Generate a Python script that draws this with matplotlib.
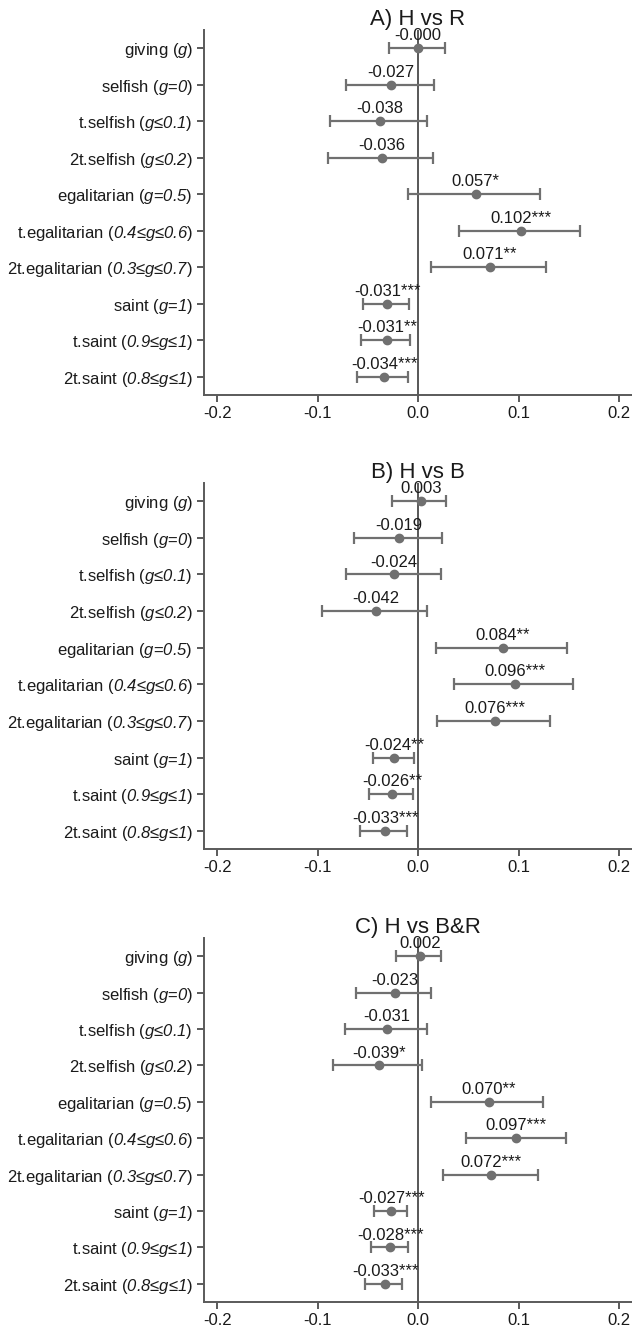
import matplotlib
matplotlib.use("Agg")
import matplotlib.pyplot as plt

plt.rcParams["font.family"] = ["Liberation Sans", "DejaVu Sans"]
plt.rcParams["mathtext.fontset"] = "custom"
plt.rcParams["mathtext.rm"] = "Liberation Sans"
# \mathsf is used for the italic parts so that digits are slanted as well
plt.rcParams["mathtext.sf"] = "Liberation Sans:italic"
plt.rcParams["mathtext.it"] = "Liberation Sans:italic"

# Row labels (top to bottom)
categories = [
    r"giving ($\mathsf{g}$)",
    r"selfish ($\mathsf{g}$=$\mathsf{0}$)",
    r"t.selfish ($\mathsf{g}$≤$\mathsf{0.1}$)",
    r"2t.selfish ($\mathsf{g}$≤$\mathsf{0.2}$)",
    r"egalitarian ($\mathsf{g}$=$\mathsf{0.5}$)",
    r"t.egalitarian ($\mathsf{0.4}$≤$\mathsf{g}$≤$\mathsf{0.6}$)",
    r"2t.egalitarian ($\mathsf{0.3}$≤$\mathsf{g}$≤$\mathsf{0.7}$)",
    r"saint ($\mathsf{g}$=$\mathsf{1}$)",
    r"t.saint ($\mathsf{0.9}$≤$\mathsf{g}$≤$\mathsf{1}$)",
    r"2t.saint ($\mathsf{0.8}$≤$\mathsf{g}$≤$\mathsf{1}$)",
]

x_ticks = [-0.2, -0.1, 0.0, 0.1, 0.2]
x_tick_labels = ["-0.2", "-0.1", "0.0", "0.1", "0.2"]

# A) H vs R
title_a = "A) H vs R"
coef_a = [-0.0004, -0.027, -0.038, -0.036, 0.057, 0.102, 0.071, -0.031, -0.031, -0.034]
lo_a = [-0.029, -0.072, -0.088, -0.090, -0.010, 0.040, 0.013, -0.055, -0.057, -0.061]
hi_a = [0.027, 0.016, 0.009, 0.015, 0.121, 0.161, 0.127, -0.009, -0.008, -0.010]
stars_a = ["", "", "", "", "*", "***", "**", "***", "**", "***"]

# B) H vs B
title_b = "B) H vs B"
coef_b = [0.003, -0.019, -0.024, -0.042, 0.084, 0.096, 0.076, -0.024, -0.026, -0.033]
lo_b = [-0.026, -0.064, -0.072, -0.096, 0.018, 0.036, 0.019, -0.045, -0.049, -0.058]
hi_b = [0.028, 0.024, 0.023, 0.009, 0.148, 0.154, 0.131, -0.004, -0.005, -0.011]
stars_b = ["", "", "", "", "**", "***", "***", "**", "**", "***"]

# C) H vs B&R
title_c = "C) H vs B&R"
coef_c = [0.002, -0.023, -0.031, -0.039, 0.070, 0.097, 0.072, -0.027, -0.028, -0.033]
lo_c = [-0.022, -0.062, -0.073, -0.085, 0.013, 0.047, 0.025, -0.044, -0.047, -0.053]
hi_c = [0.023, 0.013, 0.009, 0.004, 0.124, 0.147, 0.119, -0.011, -0.010, -0.016]
stars_c = ["", "", "", "*", "**", "***", "***", "***", "***", "***"]

panels = [
    (title_a, coef_a, lo_a, hi_a, stars_a),
    (title_b, coef_b, lo_b, hi_b, stars_b),
    (title_c, coef_c, lo_c, hi_c, stars_c),
]

W, H = 632, 1336
fig = plt.figure(figsize=(W / 100, H / 100), dpi=100)

# axes boxes in pixels: (top, bottom)
boxes = [(30, 395), (483, 849), (938, 1302)]
left_px, right_px = 204, 632

point_col = "#707070"
spine_col = "#5a5a5a"

for (top, bot), (title, coef, lo, hi, stars) in zip(boxes, panels):
    ax = fig.add_axes([left_px / W, 1 - bot / H, (right_px - left_px) / W, (bot - top) / H])
    ypos = list(range(len(categories)))
    xerr = [[c - l for c, l in zip(coef, lo)], [h - c for c, h in zip(coef, hi)]]
    ax.axvline(0, color="#2a2a2a", lw=1.1, zorder=1)
    ax.errorbar(coef, ypos, xerr=xerr, fmt="o", color=point_col, ecolor=point_col,
                elinewidth=1.6, capsize=4.2, capthick=1.6, markersize=6, zorder=3)
    for c, y, s in zip(coef, ypos, stars):
        ax.annotate(f"{c:.3f}{s}", (c, y), xytext=(0, 3.5), textcoords="offset points",
                    ha="center", va="bottom", fontsize=12, color="#1a1a1a", zorder=4)
    ax.set_xlim(-0.2132, 0.2126)
    ax.set_ylim(len(categories) - 0.5, -0.5)
    ax.set_yticks(ypos)
    ax.set_yticklabels(categories, fontsize=12, color="#1a1a1a")
    ax.set_xticks(x_ticks)
    ax.set_xticklabels(x_tick_labels, fontsize=12, color="#1a1a1a")
    for side in ("top", "right"):
        ax.spines[side].set_visible(False)
    for side in ("left", "bottom"):
        ax.spines[side].set_color(spine_col)
        ax.spines[side].set_linewidth(1.4)
    ax.tick_params(axis="both", color=spine_col, width=1.4, length=5, pad=3)
    ax.set_title(title, fontsize=16, pad=3, color="#1a1a1a")

fig.savefig("out.png", dpi=100)
